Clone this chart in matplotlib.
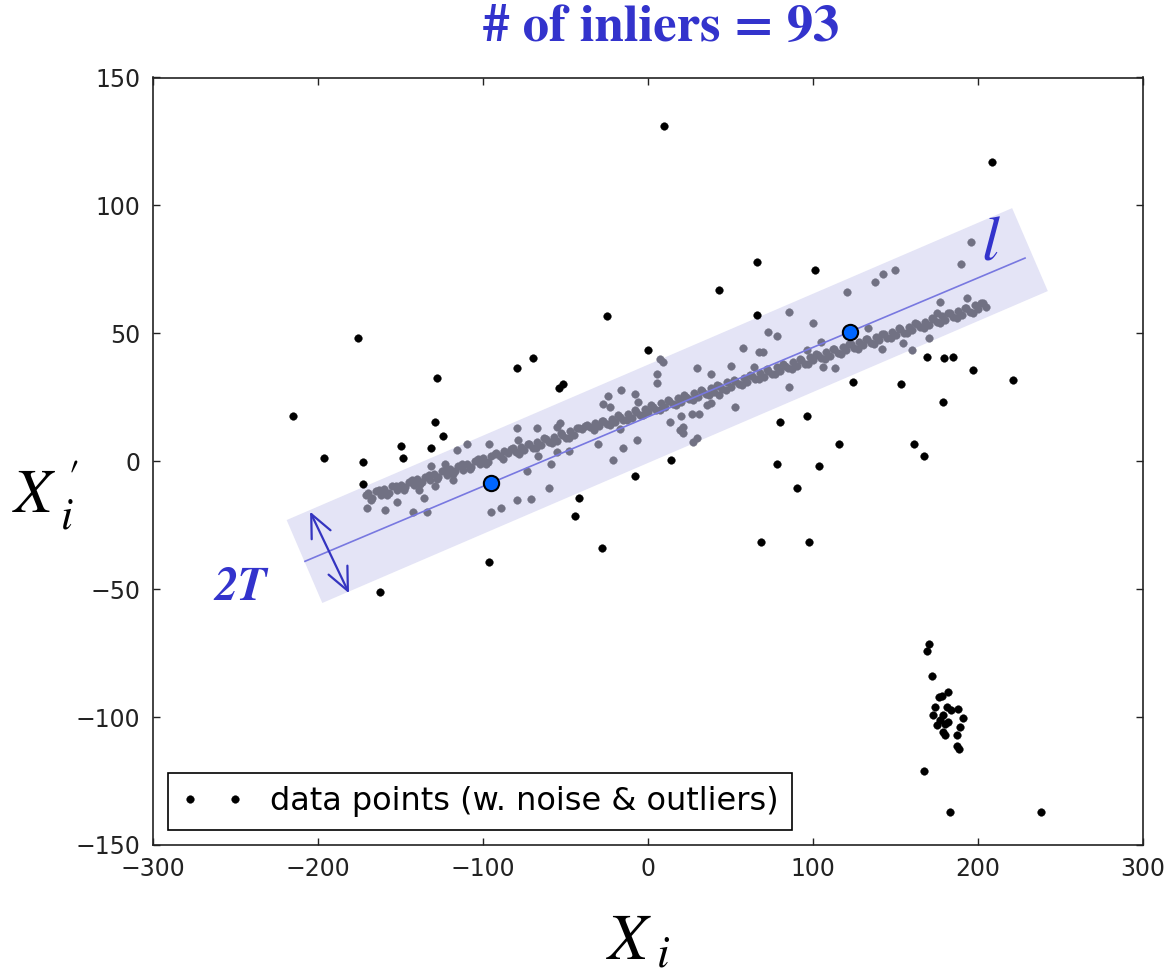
import matplotlib
matplotlib.use("Agg")
import matplotlib.pyplot as plt
import numpy as np

plt.rcParams["mathtext.fontset"] = "stix"
plt.rcParams["font.family"] = ["DejaVu Sans"]

# ---------------- data ----------------
# dense inlier trace (gray)
dense_x = [-170, -167, -165, -162, -160, -157, -155, -152, -150, -147, -145, -142, -140, -137, -135,
           -132, -130, -127, -125, -122, -120, -117, -115, -112, -110, -107, -105, -102, -100, -97,
           -95, -92, -90, -87, -85, -82, -80, -77, -75, -72, -70, -67, -65, -62, -60, -57, -55, -52,
           -50, -47, -45, -42, -40, -37, -35, -32, -30, -27, -25, -22, -20, -17, -15, -12, -10, -7,
           -5, -2, 0, 3, 5, 8, 10, 13, 15, 18, 20, 23, 25, 28, 30, 33, 35, 38, 40, 43, 45, 48, 50,
           53, 55, 58, 60, 63, 65, 68, 70, 73, 75, 78, 80, 83, 85, 88, 90, 93, 95, 98, 100, 103, 105,
           108, 110, 113, 115, 118, 120, 123, 125, 128, 130, 133, 135, 138, 140, 143, 145, 148, 150,
           153, 155, 158, 160, 163, 165, 168, 170, 173, 175, 178, 180, 183, 185, 188, 190, 193, 195,
           198, 200, 203]
dense_y = [-12.5, -14.2, -11.8, -13.1, -11.0, -12.3, -9.8, -11.2, -9.1, -10.2, -8.0, -9.3, -6.9, -8.1,
           -6.2, -7.5, -4.8, -6.1, -3.9, -5.2, -3.1, -4.0, -1.8, -3.3, -0.9, -2.2, 0.1, -1.2, 1.1, -0.3,
           2.0, 3.4, 2.1, 4.2, 3.1, 5.0, 3.6, 5.7, 4.4, 6.8, 5.2, 7.5, 6.3, 8.6, 7.4, 9.5, 8.1, 10.4,
           9.2, 11.9, 10.3, 13.0, 12.6, 14.3, 13.2, 14.8, 13.6, 15.7, 14.6, 16.4, 15.3, 17.2, 16.2, 18.5,
           17.1, 19.4, 18.2, 20.5, 19.4, 21.3, 20.2, 22.6, 21.3, 23.4, 22.2, 24.7, 23.1, 25.3, 24.2, 26.8,
           25.1, 27.5, 26.3, 28.7, 27.2, 29.4, 28.3, 30.8, 29.1, 31.5, 30.2, 32.7, 31.1, 33.4, 32.2, 34.6,
           33.1, 35.3, 34.2, 36.7, 35.2, 37.4, 36.3, 38.8, 37.4, 39.5, 38.2, 40.9, 39.4, 41.6, 40.3, 42.8,
           41.2, 43.7, 42.4, 44.6, 43.3, 45.8, 44.2, 46.5, 45.3, 47.8, 46.2, 48.5, 47.4, 49.7, 48.3, 50.4,
           49.2, 51.6, 50.3, 52.5, 51.3, 53.8, 52.4, 54.6, 53.2, 55.7, 54.3, 56.6, 55.4, 57.9, 56.5, 58.7,
           57.3, 59.8, 58.4, 60.9, 59.6, 61.7]
dense2_x = [-171, -168, -163, -158, -153, -148, -143, -138, -133, -128, -123, -118, -113, -108, -103,
            -98, -93, -88, -83, -78, -73, -68, -63, -58, -53, -48, -43, -38, -33, -28, -23, -18, -13,
            -8, -3, 2, 7, 12, 17, 22, 27, 32, 37, 42, 47, 52, 57, 62, 67, 72, 77, 82, 87, 92, 97, 102,
            107, 112, 117, 122, 127, 132, 137, 142, 147, 152, 157, 162, 167, 172, 177, 182, 187, 192,
            197, 202, 205]
dense2_y = [-13.0, -15.0, -11.4, -13.0, -9.5, -11.2, -7.2, -9.0, -5.3, -7.1, -3.3, -5.0, -1.2, -3.1, 0.8,
            -1.0, 2.8, 1.0, 4.8, 3.0, 6.9, 5.0, 8.9, 7.0, 10.9, 9.0, 12.9, 13.8, 12.2, 15.9, 14.0, 17.9,
            16.0, 19.9, 18.0, 21.9, 20.0, 23.9, 22.0, 25.9, 24.0, 27.9, 26.0, 29.9, 28.0, 31.9, 30.0,
            33.9, 32.0, 35.9, 34.0, 37.9, 36.0, 39.9, 38.0, 41.9, 40.0, 43.9, 42.0, 45.9, 44.0, 47.9,
            46.0, 49.9, 48.0, 51.9, 50.0, 53.9, 52.0, 55.9, 54.0, 57.9, 56.0, 59.9, 58.0, 61.9, 60.2]

# scattered inliers (gray)
spread_x = [-170.5, -159.4, -152.3, -142.6, -134.1, -135.5, -139, -131.5, -123.2, -129.2, -118.1, -115.7,
            -109.7, -96.5, -79.6, -78.8, -67.5, -73.6, -95.1, -89.1, -79.6, -71.1, -66.8, -59.8, -59,
            -55.4, -48, -30.1, -21.4, -15.3, -6.8, -17.2, -27.1, -23, -24.1, -16.5, -7.9, -5.9, 5.3, 5.3,
            7.3, 8.9, 13.3, 19.4, -55.4, -53.3, 19.8, 21, 21, 26.9, 31.2, 27.5, 29.5, 29.5, 38, 36, 38,
            43, 50.1, 52.7, 57.4, 64.4, 67.5, 69.5, 72.9, 78, 85.6, 99.8, 96.5, 104.7, 105.9, 113.3, 85.6,
            120.4, 137.6, 142.2, 149.7, 133.5, 141.6, 154.7, 159.8, 170.5, 175, 177, 193.2, 189.5, 195.6]
spread_y = [-18.1, -19.1, -15.9, -20, -20, -14.5, -11.2, -1.7, -1.1, -9.7, -7.3, 4.4,
            6.7, 6.7, 12.9, 8.3, 12.9, -3.7, -20, -18.1, -15.3, -14.6, 2, -10.3, -1.2,
            3.7, 4.1, 6.6, 0.5, 5, 8.3, 12.5, 22.4, 21.1, 25.5, 27.9, 26.3, 23.2, 30.7, 34.1,
            39.8, 38.8, 15.5, 12.2, 13.5, 14.8, 17.8, 13.5, 10.9, 18.5, 18.5, 7.6, 9, 36.6, 34, 22, 22.9,
            25.9, 37.4, 21.1, 44.4, 36.7, 42.8, 42.8, 50.6, 49, 58.5, 53.9, 43.5, 46.7, 37, 36.3, 29.1,
            66, 70, 73.1, 74.8, 52, 43.7, 46.3, 43.5, 48, 58.1, 62.4, 63.9, 77.1, 85.8]

# outliers (black)
outlier_x = [9.7, 208.5, -175.8, -215, -196.4, -172.7, -172.7, -162.4, -128, -149.9, -148.7, -129.3,
             -124.4, -131.7, -79.6, -69.9, -96.5, -25, -53.8, -51.3, 0.2, 13.7, -7.9, -41.8, -44.4,
             -27.7, 65.9, 43, 65.9, 80, 78, 68.3, 101.2, 168.9, 179.6, 184.6, 196.8, 221, 124, 153.2,
             178.6, 96.2, 115.6, 161.4, 167.5, 103.5, 90.1, 97.6,
             170.3, 168.9, 172.3, 167.5, 183, 238.2, 182, 178, 176.6, 173.9, 181, 188, 172.9, 179,
             190.7, 177, 182, 175.4, 180, 189.1, 179, 180, 187.1, 187.1, 188.5, 183.4]
outlier_y = [131.2, 117, 48.2, 17.7, 1.3, -0.3, -8.9, -51, 32.4, 5.8, 1.4, 15.3,
             9.8, 5.2, 36.3, 40.4, -39.5, 56.8, 28.8, 30.2, 43.5, 0.5, -5.8, -14.5, -21.4,
             -34, 77.8, 66.8, 57.2, 15.5, -1, -31.7, 74.8, 40.9, 40.2, 40.9, 35.7, 31.8, 30.9, 30.1,
             23, 17.7, 6.7, 6.7, 2, -1.9, -10.6, -31.6,
             -71.4, -74.1, -84, -121, -137.2, -137.2, -90.1, -91.8, -92.3, -96.2, -96.2, -97, -99.2, -99.2,
             -100.5, -101.2, -101.8, -103.1, -102.7, -103.8, -105.7, -107, -107, -111.3, -112.5, -97.2]

# the two sampled points defining the hypothesis line
sample_x = [-95.2, 122.4]
sample_y = [-8.5, 50.6]

x_ticks = [-300, -200, -100, 0, 100, 200, 300]
y_ticks = [-150, -100, -50, 0, 50, 100, 150]

# ---------------- figure ----------------
W, H, DPI = 1171, 974, 100
fig = plt.figure(figsize=(W / DPI, H / DPI), dpi=DPI)
ax = fig.add_axes([153 / W, 1 - 845 / H, 990 / W, 767.5 / H])
ax.set_xlim(-300, 300)
ax.set_ylim(-150, 150)

slope = (sample_y[1] - sample_y[0]) / (sample_x[1] - sample_x[0])
def line_at(x):
    return sample_y[0] + slope * (x - sample_x[0])

band_x = np.array([-208.2, 231.5])
band_y = np.array([line_at(-208.2), line_at(231.5) + 2.5])
ax.plot(band_x, band_y, color="#e4e4f6", lw=65, solid_capstyle="butt", zorder=1)

lx = np.array([-207.9, 228.5])
ax.plot(lx, line_at(lx), color="#7878e0", lw=1.2, zorder=4)

gray = "#717183"
ax.plot(outlier_x, outlier_y, "o", ms=5.5, color="black", mec="black", mew=0.3, zorder=3,
        label="data points (w. noise & outliers)")
ax.plot(dense_x, dense_y, "o", ms=5.5, color=gray, mec=gray, mew=0.3, zorder=3)
ax.plot(dense2_x, dense2_y, "o", ms=5.5, color=gray, mec=gray, mew=0.3, zorder=3)
ax.plot(spread_x, spread_y, "o", ms=5.5, color=gray, mec=gray, mew=0.3, zorder=3)

ax.plot(sample_x, sample_y, "o", ms=11, mfc="#0066ff", mec="black", mew=1.5, zorder=6)

ax.annotate("", xy=(-204.8, -19.7), xytext=(-181.2, -51.6),
            arrowprops=dict(arrowstyle="<->,head_length=0.55,head_width=0.25", color="#3434c0",
                            lw=1.6, shrinkA=0, shrinkB=0, mutation_scale=30), zorder=5)
ax.text(-246.7, -49.9, "2T", family="STIXGeneral", fontweight="bold", fontstyle="italic",
        fontsize=34, color="#3333cc", ha="center", va="center")
ax.text(207.3, 84.6, "l", family="STIXGeneral", fontstyle="italic", fontsize=46,
        color="#3333cc", ha="center", va="center")

ax.set_xticks(x_ticks)
ax.set_yticks(y_ticks)
ax.tick_params(direction="in", top=True, right=True, length=5, width=1, labelsize=17, pad=9,
               colors="#222222")
for s in ax.spines.values():
    s.set_linewidth(1.2)
    s.set_color("#222222")

leg = ax.legend(loc="lower left", numpoints=2, fontsize=23, fancybox=False, edgecolor="black",
                framealpha=1, borderaxespad=0.47, handlelength=2.0, handletextpad=0.8,
                borderpad=0.4)
leg.get_frame().set_linewidth(1.2)

fig.text(661 / W, 1 - 29 / H, "# of inliers = 93", family="STIXGeneral", fontweight="bold",
         fontsize=38, color="#3333cc", ha="center", va="center")
fig.text(606 / W, 1 - 960 / H, r"$X_{\;i}$", fontsize=47, ha="left", va="baseline")
fig.text(12 / W, 1 - 513 / H, r"$X_{\;i}^{\;\prime}$", fontsize=45, ha="left", va="baseline")

fig.savefig("out.png", dpi=DPI)
